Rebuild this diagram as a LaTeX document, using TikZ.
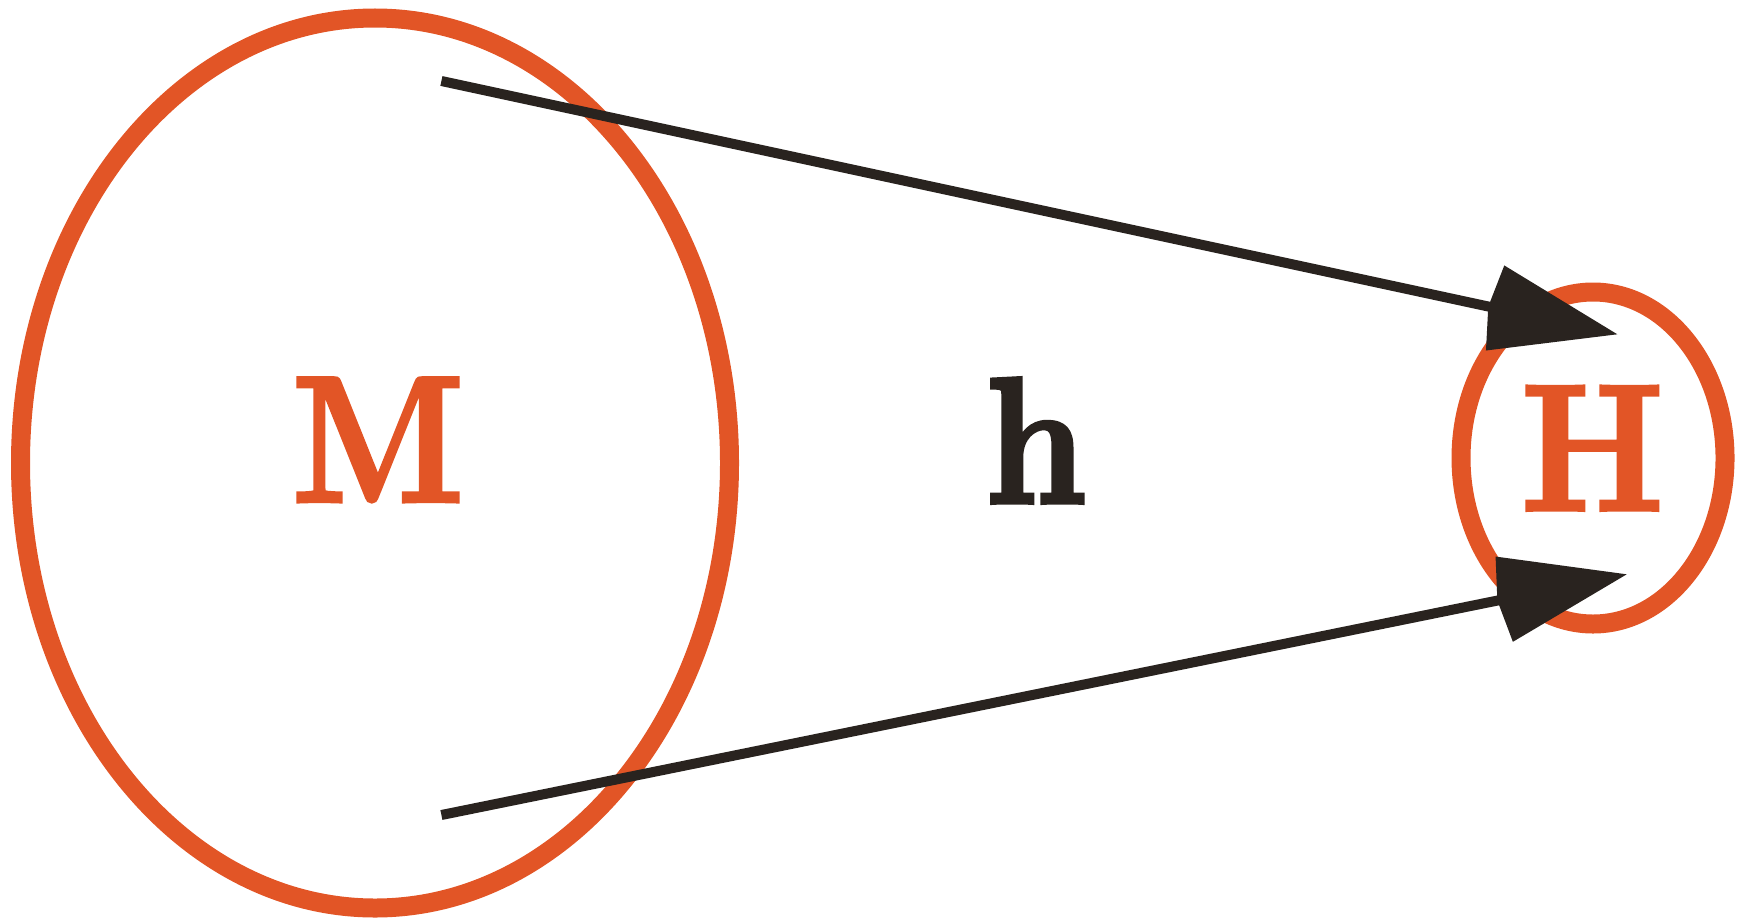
\documentclass[tikz,border=0pt]{standalone}
\usepackage{fontspec}
\newfontfamily\lblfont{Latin Modern Roman}[BoldFeatures={FakeStretch=0.9,FakeBold=2.5}]
\usetikzlibrary{arrows.meta,shapes.geometric}
\definecolor{Rust}{HTML}{E25526}
\definecolor{Ink}{HTML}{29231F}

\begin{document}
\begin{tikzpicture}[
    ring/.style={ellipse,draw=Rust,line width=.19cm,inner sep=0pt},
    lbl/.style={anchor=base,font=\lblfont\fontsize{51}{58}\selectfont\bfseries},
    arr/.style={-{Kite[length=1.32cm,width=.87cm,inset=.07cm]},line width=.1cm,Ink}]
    \useasboundingbox (0,0) rectangle (17.39,9.2);
    \node[ring,minimum width=7.09cm,minimum height=8.9cm] (space) at (3.75,4.57) {};
    \node[ring,minimum width=2.64cm,minimum height=3.32cm] (target) at (15.93,4.62) {};
    \node[lbl,text=Rust] (mlab) at (3.78,4.187) {M};
    \node[lbl,text=Ink] (hlab) at (10.36,4.173) {h};
    \node[lbl,text=Rust] (Hlab) at (15.925,4.103) {H};
    \coordinate (top) at (4.414,8.39);
    \coordinate (bot) at (4.414,1.05);
    \coordinate (toptip) at (16.173,5.857);
    \coordinate (bottip) at (16.267,3.457);
    \draw[arr] (top) -- (toptip);
    \draw[arr] (bot) -- (bottip);
  \end{tikzpicture}
\end{document}
